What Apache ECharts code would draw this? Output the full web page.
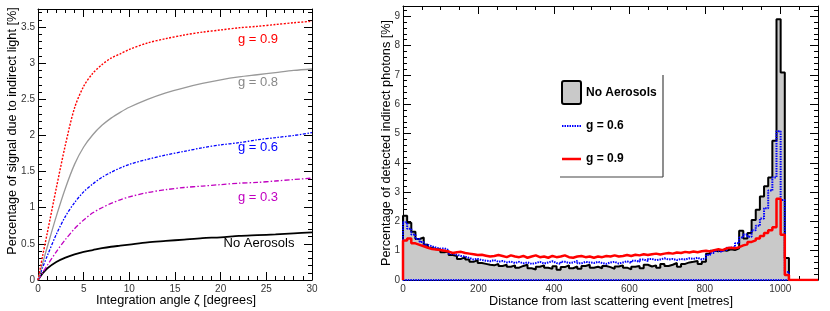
<!DOCTYPE html>
<html><head><meta charset="utf-8">
<script src="https://cdn.jsdelivr.net/npm/echarts/dist/echarts.min.js"></script>
<style>html,body{margin:0;padding:0;background:#fff}#c{width:830px;height:311px}</style>
</head><body><div id="c"></div>
<script>
// ---------- Left panel data: signal fraction vs integration angle ----------
const zeta = [0, 0.5, 1, 2, 3, 4, 5, 6, 7, 8, 9, 10, 12, 14, 16, 18, 20, 22, 24, 26, 28, 30];
const g09 = [0, 0.33, 0.64, 1.27, 1.87, 2.38, 2.68, 2.86, 2.98, 3.07, 3.13, 3.19, 3.28, 3.34, 3.39, 3.43, 3.46, 3.49, 3.51, 3.535, 3.56, 3.58];
const g08 = [0, 0.23, 0.45, 0.88, 1.27, 1.6, 1.84, 2.01, 2.14, 2.24, 2.32, 2.39, 2.5, 2.59, 2.66, 2.72, 2.77, 2.81, 2.84, 2.87, 2.9, 2.92];
const g06 = [0, 0.17, 0.33, 0.63, 0.88, 1.07, 1.22, 1.33, 1.42, 1.49, 1.55, 1.6, 1.67, 1.73, 1.78, 1.83, 1.87, 1.9, 1.94, 1.97, 2.0, 2.04];
const g03 = [0, 0.1, 0.2, 0.39, 0.56, 0.71, 0.83, 0.93, 1.0, 1.06, 1.11, 1.15, 1.21, 1.25, 1.28, 1.3, 1.32, 1.34, 1.35, 1.37, 1.39, 1.41];
const noAer = [0, 0.09, 0.16, 0.25, 0.31, 0.355, 0.39, 0.415, 0.44, 0.46, 0.475, 0.49, 0.52, 0.54, 0.56, 0.58, 0.59, 0.61, 0.62, 0.63, 0.645, 0.66];

// ---------- Right panel data: histograms, 100 bins of 11 m from 0 to 1100 m ----------
const binWidth = 11;
const histNoAer = [2.19,1.95,1.65,1.40,1.45,1.20,1.10,1.05,1.05,0.95,
  0.97,0.85,0.82,0.72,0.78,0.70,0.62,0.68,0.58,0.55,
  0.52,0.50,0.55,0.48,0.52,0.45,0.50,0.42,0.48,0.52,
  0.40,0.36,0.45,0.50,0.42,0.38,0.47,0.35,0.44,0.50,
  0.40,0.46,0.38,0.48,0.52,0.42,0.45,0.40,0.48,0.44,
  0.38,0.46,0.50,0.42,0.36,0.45,0.48,0.40,0.52,0.46,
  0.50,0.42,0.55,0.48,0.52,0.58,0.45,0.55,0.60,0.62,
  0.65,0.55,0.62,0.90,1.00,0.98,1.02,1.00,1.05,1.02,
  1.08,1.68,1.42,1.60,2.05,2.40,2.85,3.20,3.50,4.75,
  8.90,7.08,0.75,0,0,0,0,0,0,0];
const histG06 = [1.97,1.75,1.55,1.40,1.30,1.20,1.15,1.10,1.07,1.08,
  1.02,0.90,0.86,0.82,0.80,0.75,0.70,0.72,0.68,0.66,
  0.64,0.68,0.62,0.65,0.60,0.63,0.58,0.62,0.57,0.60,
  0.55,0.58,0.62,0.56,0.60,0.64,0.58,0.55,0.62,0.58,
  0.60,0.65,0.57,0.62,0.60,0.58,0.62,0.58,0.55,0.60,
  0.62,0.56,0.60,0.64,0.58,0.66,0.62,0.70,0.65,0.72,
  0.68,0.70,0.74,0.70,0.72,0.68,0.72,0.70,0.74,0.72,
  0.76,0.70,0.75,0.85,0.92,1.00,0.95,1.02,1.10,1.12,
  1.25,1.45,1.55,1.48,1.70,1.85,2.10,2.45,3.05,3.50,
  5.08,2.73,0.27,0,0,0,0,0,0,0];
const histG09 = [1.35,1.42,1.25,1.20,1.15,1.10,1.06,1.04,1.02,1.00,
  0.97,0.92,0.95,0.96,0.92,0.90,0.88,0.85,0.86,0.83,
  0.80,0.82,0.85,0.82,0.78,0.84,0.80,0.78,0.82,0.76,
  0.80,0.84,0.78,0.80,0.76,0.82,0.78,0.80,0.84,0.78,
  0.76,0.80,0.82,0.78,0.80,0.76,0.80,0.78,0.82,0.80,
  0.84,0.80,0.82,0.85,0.82,0.86,0.84,0.88,0.85,0.88,
  0.90,0.87,0.90,0.92,0.90,0.94,0.92,0.96,0.94,0.97,
  0.95,0.98,1.00,0.97,1.02,1.05,1.02,1.08,1.10,1.08,
  1.12,1.18,1.22,1.30,1.35,1.42,1.50,1.60,1.70,1.80,
  2.77,1.54,0.17,0,0,0,0,0,0,0];

// ---------- Tick settings ----------
const leftX = {min: 0, max: 30, major: 5, minor: 1};
const leftY = {min: 0, max: 3.75, major: 0.5, minor: 0.1};
const rightX = {min: 0, max: 1100, major: 200, minor: 50};
const rightY = {min: 0, max: 9.35, major: 1, minor: 0.2};

const FONT = '"Liberation Sans", Arial, Helvetica, sans-serif';

function histPoints(vals, close) {
  const pts = [[0, 0]];
  vals.forEach((v, i) => { pts.push([i * binWidth, v]); pts.push([(i + 1) * binWidth, v]); });
  pts.push([vals.length * binWidth, 0]);
  if (close) pts.push([0, 0]);
  return pts;
}
function curve(ys) { return zeta.map((z, i) => [z, ys[i]]); }

const xAxes = [], yAxes = [];
function addAxes(list, grid, r, sides, isX, showMax) {
  let mainIdx = -1;
  sides.forEach((pos, k) => {
    [true, false].forEach(major => {
      const a = {
        gridIndex: grid, type: 'value', position: pos,
        min: r.min, max: r.max, interval: major ? r.major : r.minor,
        axisLine: {show: major, onZero: false, lineStyle: {color: '#000', width: 1}},
        axisTick: {show: true, inside: true, length: major ? 8 : 4, lineStyle: {color: '#000', width: 1}},
        axisLabel: {show: major && k === 0, fontSize: 10, color: '#333', fontFamily: FONT,
          margin: isX ? 4 : 3, showMaxLabel: showMax, formatter: v => String(+v.toFixed(2))},
        splitLine: {show: false}
      };
      if (major && k === 0) mainIdx = list.length;
      list.push(a);
    });
  });
  return mainIdx;
}
const lx = addAxes(xAxes, 0, leftX, ['bottom', 'top'], true, true);
const ly = addAxes(yAxes, 0, leftY, ['left', 'right'], false, false);
const rx = addAxes(xAxes, 1, rightX, ['bottom', 'top'], true, false);
const ry = addAxes(yAxes, 1, rightY, ['left', 'right'], false, false);

function lineSeries(ys, color, type, width) {
  return {type: 'line', xAxisIndex: lx, yAxisIndex: ly, data: curve(ys), smooth: 0.3,
    showSymbol: false, symbol: 'none', lineStyle: {color, type, width}, z: 3};
}

const series = [
  lineSeries(noAer, '#000000', 'solid', 1.8),
  lineSeries(g03, '#c000c0', [5, 2, 1.5, 2], 1.3),
  lineSeries(g06, '#0000ff', [3, 1.5, 1.5, 1.5], 1.3),
  lineSeries(g08, '#999999', 'solid', 1.3),
  lineSeries(g09, '#ff0000', [2, 1.5], 1.4),
  {type: 'line', xAxisIndex: rx, yAxisIndex: ry, data: histPoints(histNoAer, false), showSymbol: false, symbol: 'none',
    lineStyle: {color: '#000', width: 2}, areaStyle: {color: '#c9c9c9', opacity: 1}, z: 3},
  {type: 'line', xAxisIndex: rx, yAxisIndex: ry, data: histPoints(histG06, true), showSymbol: false, symbol: 'none',
    lineStyle: {color: '#0000ff', width: 2, type: [1.5, 1]}, z: 4},
  {type: 'line', xAxisIndex: rx, yAxisIndex: ry, data: histPoints(histG09, false), showSymbol: false, symbol: 'none',
    lineStyle: {color: '#ff0000', width: 2.5}, z: 5}
];

function txt(text, x, y, opts) {
  const o = Object.assign({size: 13, color: '#000', align: 'center', valign: 'middle', rot: 0, weight: 'normal'}, opts || {});
  return {type: 'text', x, y, rotation: o.rot, z: 10,
    style: {text, fill: o.color, font: o.weight + ' ' + o.size + 'px ' + FONT,
      align: o.align, textAlign: o.align, verticalAlign: o.valign, textVerticalAlign: o.valign}};
}

const graphic = [
  txt('Percentage of signal due to indirect light [%]', 12, 131, {size: 12.7, rot: Math.PI / 2}),
  txt('Integration angle \u03b6 [degrees]', 176, 300, {size: 12.7}),
  txt('Percentage of detected indirect photons [%]', 386, 143, {size: 12.7, rot: Math.PI / 2}),
  txt('Distance from last scattering event [metres]', 611, 301, {size: 12.7}),
  txt('g = 0.9', 258, 39, {color: '#ff0000'}),
  txt('g = 0.8', 258, 82, {color: '#888888'}),
  txt('g = 0.6', 258, 147, {color: '#0000ff'}),
  txt('g = 0.3', 258, 197, {color: '#c000c0'}),
  txt('No Aerosols', 259, 243, {color: '#000'}),
  {type: 'line', z: 10, shape: {x1: 663, y1: 75, x2: 663, y2: 177}, style: {stroke: '#444', lineWidth: 1.2}},
  {type: 'line', z: 10, shape: {x1: 560, y1: 177, x2: 663, y2: 177}, style: {stroke: '#444', lineWidth: 1.2}},
  {type: 'rect', z: 10, shape: {x: 562, y: 81, width: 19, height: 23, r: 2}, style: {fill: '#c9c9c9', stroke: '#000', lineWidth: 2}},
  {type: 'line', z: 10, shape: {x1: 562, y1: 126, x2: 581, y2: 126}, style: {stroke: '#0000ff', lineWidth: 2, lineDash: [1.5, 1]}},
  {type: 'line', z: 10, shape: {x1: 562, y1: 159, x2: 581, y2: 159}, style: {stroke: '#ff0000', lineWidth: 2.5}},
  txt('No Aerosols', 586, 93, {size: 12, weight: 'bold', align: 'left'}),
  txt('g = 0.6', 586, 126, {size: 12, weight: 'bold', align: 'left'}),
  txt('g = 0.9', 586, 159, {size: 12, weight: 'bold', align: 'left'})
];

const chart = echarts.init(document.getElementById('c'), null, {renderer: 'canvas'});
chart.setOption({
  animation: false,
  backgroundColor: '#fff',
  grid: [
    {left: 38, top: 9, width: 274, height: 271, containLabel: false},
    {left: 403, top: 6, width: 415, height: 274, containLabel: false}
  ],
  xAxis: xAxes,
  yAxis: yAxes,
  series,
  graphic
});
</script>
</body></html>
